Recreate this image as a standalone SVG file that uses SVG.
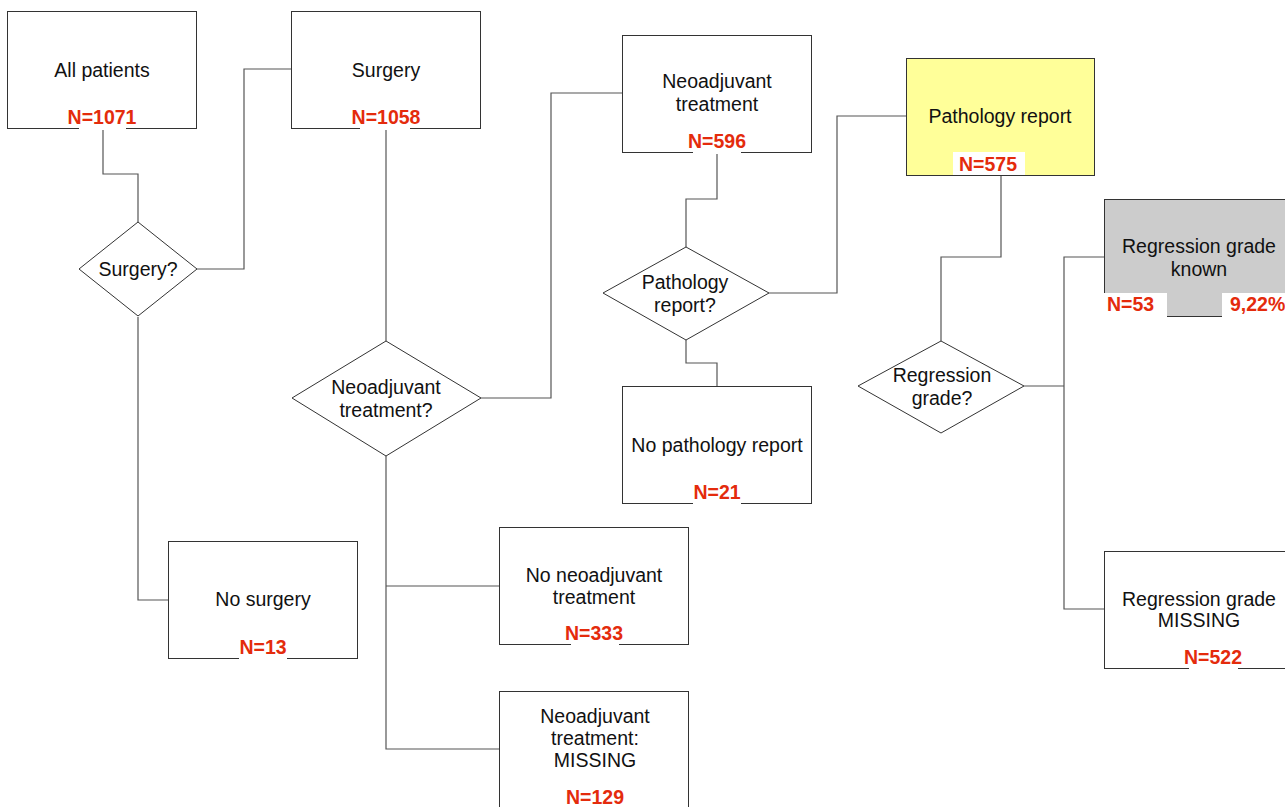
<svg xmlns="http://www.w3.org/2000/svg" width="1285" height="807" viewBox="0 0 1285 807">
<style>
.box{fill:#fff;stroke:#333;stroke-width:1}
.yel{fill:#FFFF99}
.gry{fill:#CCCCCC}
.dia{fill:#fff;stroke:#333;stroke-width:1}
.con{fill:none;stroke:#555;stroke-width:1.2}
.t{font-family:"Liberation Sans",Arial,sans-serif;font-size:19.5px;fill:#111;text-anchor:middle}
.n{font-family:"Liberation Sans",Arial,sans-serif;font-size:19.5px;font-weight:bold;fill:#E42B0C;text-anchor:middle}
.w{fill:#fff;stroke:none}
</style>
<rect width="1285" height="807" fill="#fff"/>
<g id="connectors">
<polyline class="con" points="103,128 103,174 138,174 138,222"/>
<polyline class="con" points="138,317 138,600 168,600"/>
<polyline class="con" points="197,269 244,269 244,69 291,69"/>
<polyline class="con" points="386,128 386,341"/>
<polyline class="con" points="481,398 551,398 551,93 622,93"/>
<polyline class="con" points="386,456 386,749 499,749"/>
<polyline class="con" points="386,586 499,586"/>
<polyline class="con" points="717,152 717,199 686,199 686,247"/>
<polyline class="con" points="686,340 686,363 717,363 717,386"/>
<polyline class="con" points="769,293 837,293 837,116 906,116"/>
<polyline class="con" points="1001,175 1001,257 941,257 941,341"/>
<polyline class="con" points="1024,386 1064,386"/>
<polyline class="con" points="1104,257 1064,257 1064,609 1104,609"/>
</g>
<g id="all-patients">
<rect class="box" x="7.5" y="11.5" width="189" height="117"/>
<text class="t" x="102" y="77">All patients</text>
<rect class="w" x="79" y="107" width="47" height="23"/>
<text class="n" x="102" y="124">N=1071</text>
</g>
<g id="surgery-q">
<polygon class="dia" points="138,222 197,269 138,316 79,269"/>
<text class="t" x="138" y="276">Surgery?</text>
</g>
<g id="surgery">
<rect class="box" x="291.5" y="11.5" width="189" height="117"/>
<text class="t" x="386" y="77">Surgery</text>
<rect class="w" x="360" y="107" width="50" height="23"/>
<text class="n" x="386" y="124">N=1058</text>
</g>
<g id="no-surgery">
<rect class="box" x="168.5" y="541.5" width="189" height="117"/>
<text class="t" x="263" y="606">No surgery</text>
<rect class="w" x="239" y="637" width="48" height="23"/>
<text class="n" x="263" y="654">N=13</text>
</g>
<g id="neo-q">
<polygon class="dia" points="386,341 481,398 386,456 292,398"/>
<text class="t" x="386" y="394">Neoadjuvant</text>
<text class="t" x="386" y="417">treatment?</text>
</g>
<g id="neo">
<rect class="box" x="622.5" y="35.5" width="189" height="117"/>
<text class="t" x="717" y="88">Neoadjuvant</text>
<text class="t" x="717" y="111">treatment</text>
<rect class="w" x="693" y="131" width="48" height="23"/>
<text class="n" x="717" y="148">N=596</text>
</g>
<g id="no-neo">
<rect class="box" x="499.5" y="527.5" width="189" height="117"/>
<text class="t" x="594" y="582">No neoadjuvant</text>
<text class="t" x="594" y="604">treatment</text>
<rect class="w" x="571" y="623" width="48" height="23"/>
<text class="n" x="594" y="640">N=333</text>
</g>
<g id="neo-missing">
<rect class="box" x="499.5" y="691.5" width="189" height="130"/>
<text class="t" x="595" y="723">Neoadjuvant</text>
<text class="t" x="595" y="745">treatment:</text>
<text class="t" x="595" y="767">MISSING</text>
<text class="n" x="595" y="804">N=129</text>
</g>
<g id="path-q">
<polygon class="dia" points="686,247 769,293 686,340 603,293"/>
<text class="t" x="685" y="289">Pathology</text>
<text class="t" x="685" y="312">report?</text>
</g>
<g id="no-path">
<rect class="box" x="622.5" y="386.5" width="189" height="117"/>
<text class="t" x="717" y="452">No pathology report</text>
<rect class="w" x="693" y="482" width="48" height="23"/>
<text class="n" x="717" y="499">N=21</text>
</g>
<g id="path">
<rect class="box yel" x="906.5" y="58.5" width="188" height="117"/>
<text class="t" x="1000" y="123">Pathology report</text>
<rect class="w" x="953" y="152" width="72" height="23"/>
<text class="n" x="988" y="171">N=575</text>
</g>
<g id="reg-q">
<polygon class="dia" points="941,341 1024,386 941,433 858,386"/>
<text class="t" x="942" y="382">Regression</text>
<text class="t" x="942" y="405">grade?</text>
</g>
<g id="reg-known">
<rect class="box gry" x="1104.5" y="199.5" width="190" height="117"/>
<text class="t" x="1199" y="253">Regression grade</text>
<text class="t" x="1199" y="276">known</text>
<rect class="w" x="1104" y="293" width="63" height="24"/>
<rect class="w" x="1222" y="293" width="63" height="24"/>
<text class="n" x="1107" y="311" style="text-anchor:start">N=53</text>
<text class="n" x="1230" y="311" style="text-anchor:start">9,22%</text>
</g>
<g id="reg-missing">
<rect class="box" x="1104.5" y="551.5" width="190" height="117"/>
<text class="t" x="1199" y="606">Regression grade</text>
<text class="t" x="1199" y="627">MISSING</text>
<rect class="w" x="1189" y="647" width="49" height="23"/>
<text class="n" x="1213" y="664">N=522</text>
</g>
</svg>
